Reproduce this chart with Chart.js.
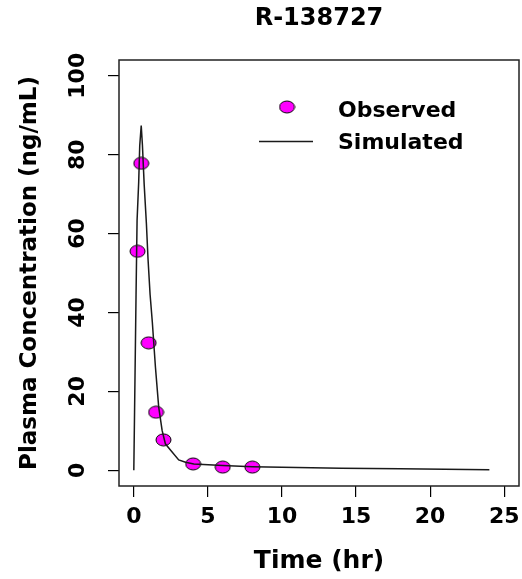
<!DOCTYPE html>
<html>
<head>
<meta charset="utf-8">
<script src="https://cdn.jsdelivr.net/npm/chart.js@4.4.1/dist/chart.umd.min.js"></script>
<style>
  html, body { margin: 0; padding: 0; background: #fff; overflow: hidden; }
  canvas { display: block; }
</style>
</head>
<body>
<canvas id="pk" width="522" height="579"></canvas>
<script>
// observed samples (hr, ng/mL)
const obsTime = [0.25, 0.5, 1, 1.5, 2, 4, 6, 8];
const obsConc = [55.5, 77.8, 32.3, 14.7, 7.7, 1.6, 0.8, 0.8];

// simulated profile
const simTime = [0, 0.05, 0.15, 0.22, 0.33, 0.4, 0.5, 0.58, 0.7, 0.85, 0.96, 1.1, 1.25, 1.46, 1.68, 1.91, 2.13, 2.5, 3.03, 3.49, 4.05, 6, 8, 10, 14, 18, 24];
const simConc = [0, 14.7, 44.3, 63.3, 73.1, 82.3, 87.4, 82.5, 72.4, 62.5, 53.5, 44.5, 37.5, 26.1, 16.0, 10.1, 6.7, 5.0, 2.6, 2.0, 1.6, 1.2, 0.9, 0.75, 0.5, 0.35, 0.15];

const xTicks = [0, 5, 10, 15, 20, 25];
const yTicks = [0, 20, 40, 60, 80, 100];

const FONT = "'DejaVu Sans', sans-serif";
const INK = '#000';
const LINE = '#1a1a1a';

// R style pch 21 dot, slightly wider than tall like the reference
function makeDot(w, h) {
  const c = document.createElement('canvas');
  c.width = w + 2;
  c.height = h + 2;
  const g = c.getContext('2d');
  g.beginPath();
  g.ellipse(c.width / 2, c.height / 2, w / 2, h / 2, 0, 0, Math.PI * 2);
  g.fillStyle = '#ff00ff';
  g.fill();
  g.lineWidth = 1;
  g.strokeStyle = '#000';
  g.stroke();
  return c;
}
const dot = makeDot(15, 12);

// no label overflow padding, the box must reach the right edge
function noPad(s) {
  s.paddingLeft = s.paddingRight = s.paddingTop = s.paddingBottom = 0;
}

// box + title + legend, drawn around the plot
const decor = {
  id: 'decor',
  afterDraw(chart) {
    const { ctx, chartArea: a } = chart;
    ctx.save();
    ctx.strokeStyle = '#222';
    ctx.lineWidth = 1.5;
    ctx.strokeRect(a.left, a.top, a.right - a.left, a.bottom - a.top);

    ctx.fillStyle = INK;
    ctx.textBaseline = 'alphabetic';
    ctx.textAlign = 'center';
    ctx.font = `bold 24px ${FONT}`;
    ctx.fillText('R-138727', (a.left + a.right) / 2, 25);

    // legend
    ctx.textAlign = 'left';
    ctx.font = `bold 22px ${FONT}`;
    ctx.drawImage(dot, 287 - dot.width / 2, 107 - dot.height / 2);
    ctx.fillText('Observed', 338, 117);
    ctx.beginPath();
    ctx.moveTo(259, 141.5);
    ctx.lineTo(313, 141.5);
    ctx.strokeStyle = LINE;
    ctx.lineWidth = 1.5;
    ctx.stroke();
    ctx.fillText('Simulated', 338, 149);
    ctx.restore();
  }
};

new Chart(document.getElementById('pk'), {
  type: 'scatter',
  data: {
    datasets: [
      {
        label: 'Simulated',
        data: simTime.map((t, i) => ({ x: t, y: simConc[i] })),
        showLine: true,
        borderColor: LINE,
        borderWidth: 1.5,
        pointRadius: 0,
        tension: 0,
        order: 0
      },
      {
        label: 'Observed',
        data: obsTime.map((t, i) => ({ x: t, y: obsConc[i] })),
        pointStyle: dot,
        pointRadius: 7,
        order: 1
      }
    ]
  },
  options: {
    responsive: false,
    animation: false,
    devicePixelRatio: 1,
    layout: { autoPadding: false, padding: { top: 60, right: 3, bottom: 0, left: 0 } },
    plugins: {
      legend: { display: false },
      tooltip: { enabled: false }
    },
    scales: {
      x: {
        type: 'linear',
        min: -1,
        max: 26,
        afterBuildTicks: s => { s.ticks = xTicks.map(v => ({ value: v })); },
        afterFit: s => { s.height = 93; noPad(s); },
        grid: { drawOnChartArea: false, drawTicks: true, tickLength: 11, color: INK, lineWidth: 1.2 },
        border: { display: false },
        ticks: { color: INK, padding: 7, maxRotation: 0, font: { family: FONT, size: 22, weight: 'bold' } },
        title: { display: true, text: 'Time (hr)', color: INK, padding: { top: 0, bottom: 3 }, font: { family: FONT, size: 25, weight: 'bold' } }
      },
      y: {
        type: 'linear',
        min: -4,
        max: 104,
        afterBuildTicks: s => { s.ticks = yTicks.map(v => ({ value: v })); },
        afterFit: s => { s.width = 119; noPad(s); },
        grid: { drawOnChartArea: false, drawTicks: true, tickLength: 11, color: INK, lineWidth: 1.2 },
        border: { display: false },
        ticks: { color: INK, padding: 7, minRotation: 90, maxRotation: 90, crossAlign: 'center', font: { family: FONT, size: 22, weight: 'bold' } },
        title: { display: true, text: 'Plasma Concentration (ng/mL)', color: INK, padding: { top: 16, bottom: 0 }, font: { family: FONT, size: 23, weight: 'bold' } }
      }
    }
  },
  plugins: [decor]
});
</script>
</body>
</html>
